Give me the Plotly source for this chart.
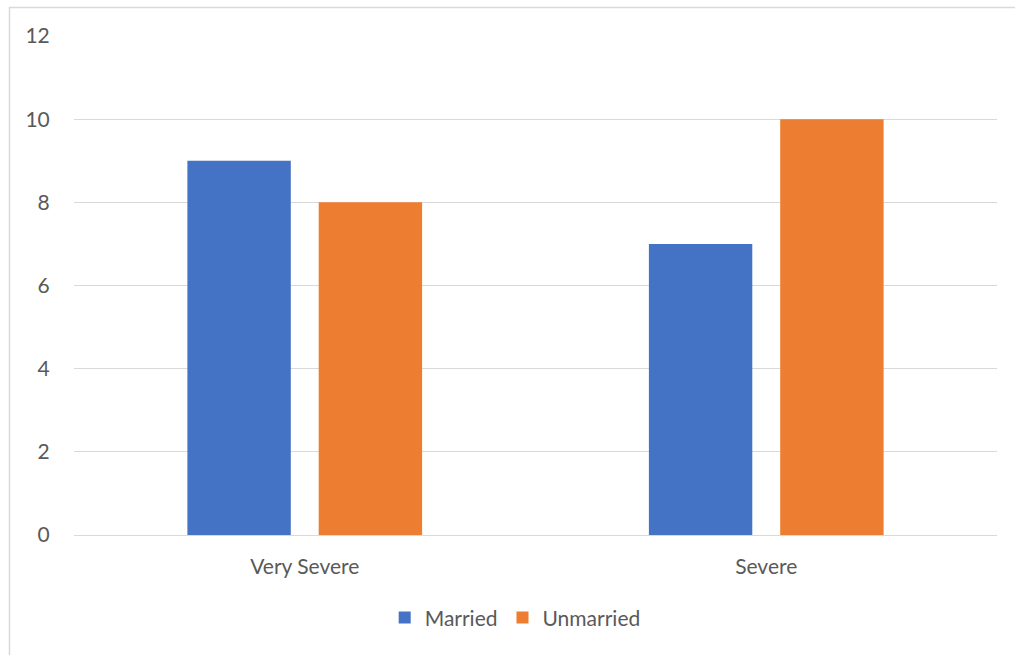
import plotly.graph_objects as go

categories = ["Very Severe", "Severe"]
married = [9, 7]
unmarried = [8, 10]
y_ticks = [0, 2, 4, 6, 8, 10, 12]

FONT = "Lato, 'Open Sans', sans-serif"
GRID = "#d9d9d9"
TXT = "#595959"

fig = go.Figure()
fig.add_trace(go.Bar(name="Married", x=categories, y=married, marker=dict(color="#4472c4", line=dict(width=0))))
fig.add_trace(go.Bar(name="Unmarried", x=categories, y=unmarried, marker=dict(color="#ed7d31", line=dict(width=0))))

fig.update_layout(
    width=1015, height=655,
    margin=dict(l=74, r=18, t=36, b=120),
    paper_bgcolor="white", plot_bgcolor="white",
    barmode="group", bargap=0.431, bargroupgap=0.2125,
    font=dict(family=FONT, size=21, color=TXT),
    showlegend=True,
    legend=dict(orientation="h", x=0.478, xanchor="center", y=-0.166, yanchor="middle",
                font=dict(family=FONT, size=21, color=TXT), traceorder="normal",
                itemwidth=30, tracegroupgap=0),
    xaxis=dict(showgrid=False, showline=True, linecolor=GRID, linewidth=1,
               ticks="outside", ticklen=13, tickcolor="rgba(0,0,0,0)",
               tickfont=dict(family=FONT, size=21, color=TXT)),
    yaxis=dict(range=[0, 12], tickvals=y_ticks, showgrid=True, gridcolor=GRID, gridwidth=1,
               zeroline=True, zerolinecolor=GRID, zerolinewidth=1, showline=False,
               ticks="outside", ticklen=19, tickcolor="rgba(0,0,0,0)",
               tickfont=dict(family=FONT, size=21, color=TXT)),
    shapes=[dict(type="rect", xref="paper", yref="paper",
                 x0=(9.5 - 74) / 923, x1=1.2, y0=-0.5, y1=(535 - 7.5) / 499,
                 line=dict(color=GRID, width=1.5), fillcolor="rgba(0,0,0,0)", layer="below")],
)

fig.write_html("out.html")
